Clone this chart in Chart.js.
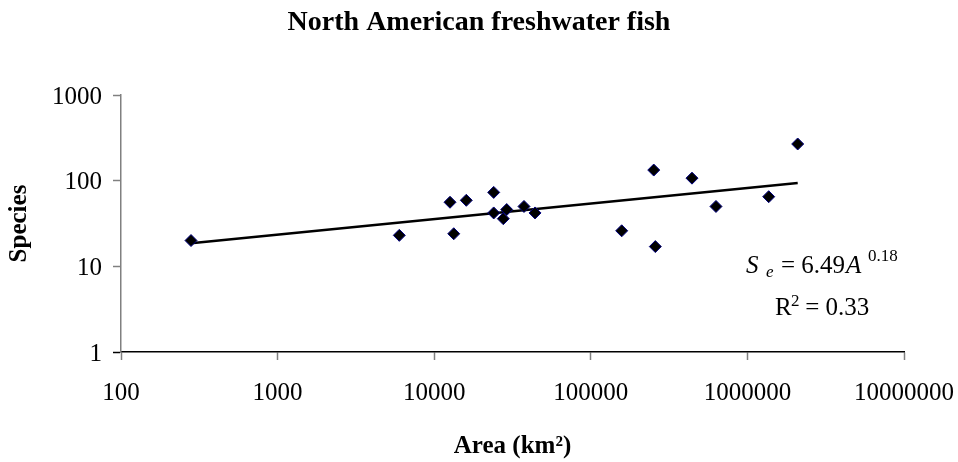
<!DOCTYPE html>
<html><head><meta charset="utf-8">
<script src="https://cdn.jsdelivr.net/npm/chart.js@4"></script>
<style>html,body{margin:0;padding:0;background:#fff}#wrap{width:958px;height:462px;position:relative}</style>
</head><body><div id="wrap"><canvas id="c"></canvas></div>
<script>
// Data
const areas = [280, 5985, 12620, 13330, 16030, 23990, 23990, 27620, 29040, 37440, 44040, 157500, 252300, 258300, 442800, 630000, 1368000, 2095000];
const species = [20, 23, 56, 24, 59, 73, 42, 36, 46, 50, 42, 26, 133, 17, 107, 50, 65, 268];
const trendAreas = [280, 2095000];
const trendSpecies = [18.6, 94];
const xTickValues = [100, 1000, 10000, 100000, 1000000, 10000000];
const xTickLabels = ['100', '1000', '10000', '100000', '1000000', '10000000'];
const yTickValues = [1, 10, 100, 1000];
const yTickLabels = ['1', '10', '100', '1000'];
const titleText = 'North American freshwater fish';
const xTitle = 'Area (km²)';
const yTitle = 'Species';

const FONT = '"Liberation Serif", "Times New Roman", serif';
Chart.defaults.font.family = FONT;
Chart.defaults.color = '#000';

const eqPlugin = {
  id: 'eq',
  afterDraw(chart) {
    const ctx = chart.ctx, a = chart.chartArea;
    const x0 = a.right - 158, y1 = a.top + 178, y2 = a.top + 220;
    ctx.save();
    ctx.fillStyle = '#000';
    ctx.textAlign = 'left';
    ctx.textBaseline = 'alphabetic';
    ctx.font = 'italic 25px ' + FONT;
    ctx.fillText('S', x0, y1);
    ctx.font = 'italic 17px ' + FONT;
    ctx.fillText('e', x0 + 20, y1 + 4);
    ctx.font = '25px ' + FONT;
    const s1 = '= 6.49';
    ctx.fillText(s1, x0 + 35, y1);
    const w1 = ctx.measureText(s1).width;
    ctx.font = 'italic 25px ' + FONT;
    ctx.fillText('A', x0 + 35 + w1 + 1, y1);
    ctx.font = '17px ' + FONT;
    ctx.fillText('0.18', x0 + 122, y1 - 12);
    // R^2 line
    ctx.font = '25px ' + FONT;
    ctx.fillText('R', x0 + 29, y2);
    ctx.font = '17px ' + FONT;
    ctx.fillText('2', x0 + 45, y2 - 9);
    ctx.font = '25px ' + FONT;
    ctx.fillText(' = 0.33', x0 + 53, y2);
    ctx.restore();
  }
};

new Chart(document.getElementById('c'), {
  type: 'scatter',
  data: {
    datasets: [
      {
        data: areas.map((a, i) => ({x: a, y: species[i]})),
        pointStyle: 'rectRot',
        pointRadius: 6,
        pointBorderWidth: 1,
        backgroundColor: '#000000',
        borderColor: '#000080',
        showLine: false
      },
      {
        data: trendAreas.map((a, i) => ({x: a, y: trendSpecies[i]})),
        showLine: true,
        pointRadius: 0,
        borderColor: '#000',
        borderWidth: 2.5,
        fill: false
      }
    ]
  },
  options: {
    responsive: true,
    maintainAspectRatio: false,
    animation: false,
    devicePixelRatio: 1,
    layout: {padding: {left: 0, right: 0, top: 0, bottom: 0}},
    plugins: {
      legend: {display: false},
      tooltip: {enabled: false},
      title: {
        display: true, text: titleText, color: '#000',
        font: {size: 28, weight: 'bold', family: FONT, lineHeight: 1.2},
        padding: {top: 5.7, bottom: 55.7}
      }
    },
    scales: {
      x: {
        type: 'logarithmic', position: 'bottom', min: 100, max: 10000000,
        afterBuildTicks: s => { s.ticks = xTickValues.map(v => ({value: v})); },
        afterFit: s => { s.height = 110; s.paddingLeft = 0; s.paddingRight = 54; },
        ticks: {
          autoSkip: false, maxRotation: 0, padding: 18.5, color: '#000',
          font: {size: 25, family: FONT},
          callback: (v, i) => xTickLabels[i]
        },
        grid: {drawOnChartArea: false, drawTicks: true, tickLength: 8, tickColor: '#808080', tickWidth: 1.5},
        border: {display: true, color: '#000', width: 1.5},
        title: {display: true, text: xTitle, color: '#000', font: {size: 25, weight: 'bold', family: FONT, lineHeight: 1.2}, padding: {top: 0, bottom: 0.4}}
      },
      y: {
        type: 'logarithmic', position: 'left', min: 1, max: 1000,
        afterBuildTicks: s => { s.ticks = yTickValues.map(v => ({value: v})); },
        afterFit: s => { s.width = 121; },
        ticks: {
          autoSkip: false, padding: 11, color: '#000', labelOffset: 2,
          font: {size: 25, family: FONT},
          callback: (v, i) => yTickLabels[i]
        },
        grid: {drawOnChartArea: false, drawTicks: true, tickLength: 8,
          tickColor: c => (c.tick && c.tick.value === 1) ? '#000' : '#808080', tickWidth: 1.5},
        border: {display: true, color: '#808080', width: 1.5},
        title: {display: true, text: yTitle, color: '#000', font: {size: 25, weight: 'bold', family: FONT, lineHeight: 1.2}, padding: {top: 4.6, bottom: 0}}
      }
    }
  },
  plugins: [eqPlugin]
});
</script>
</body></html>
